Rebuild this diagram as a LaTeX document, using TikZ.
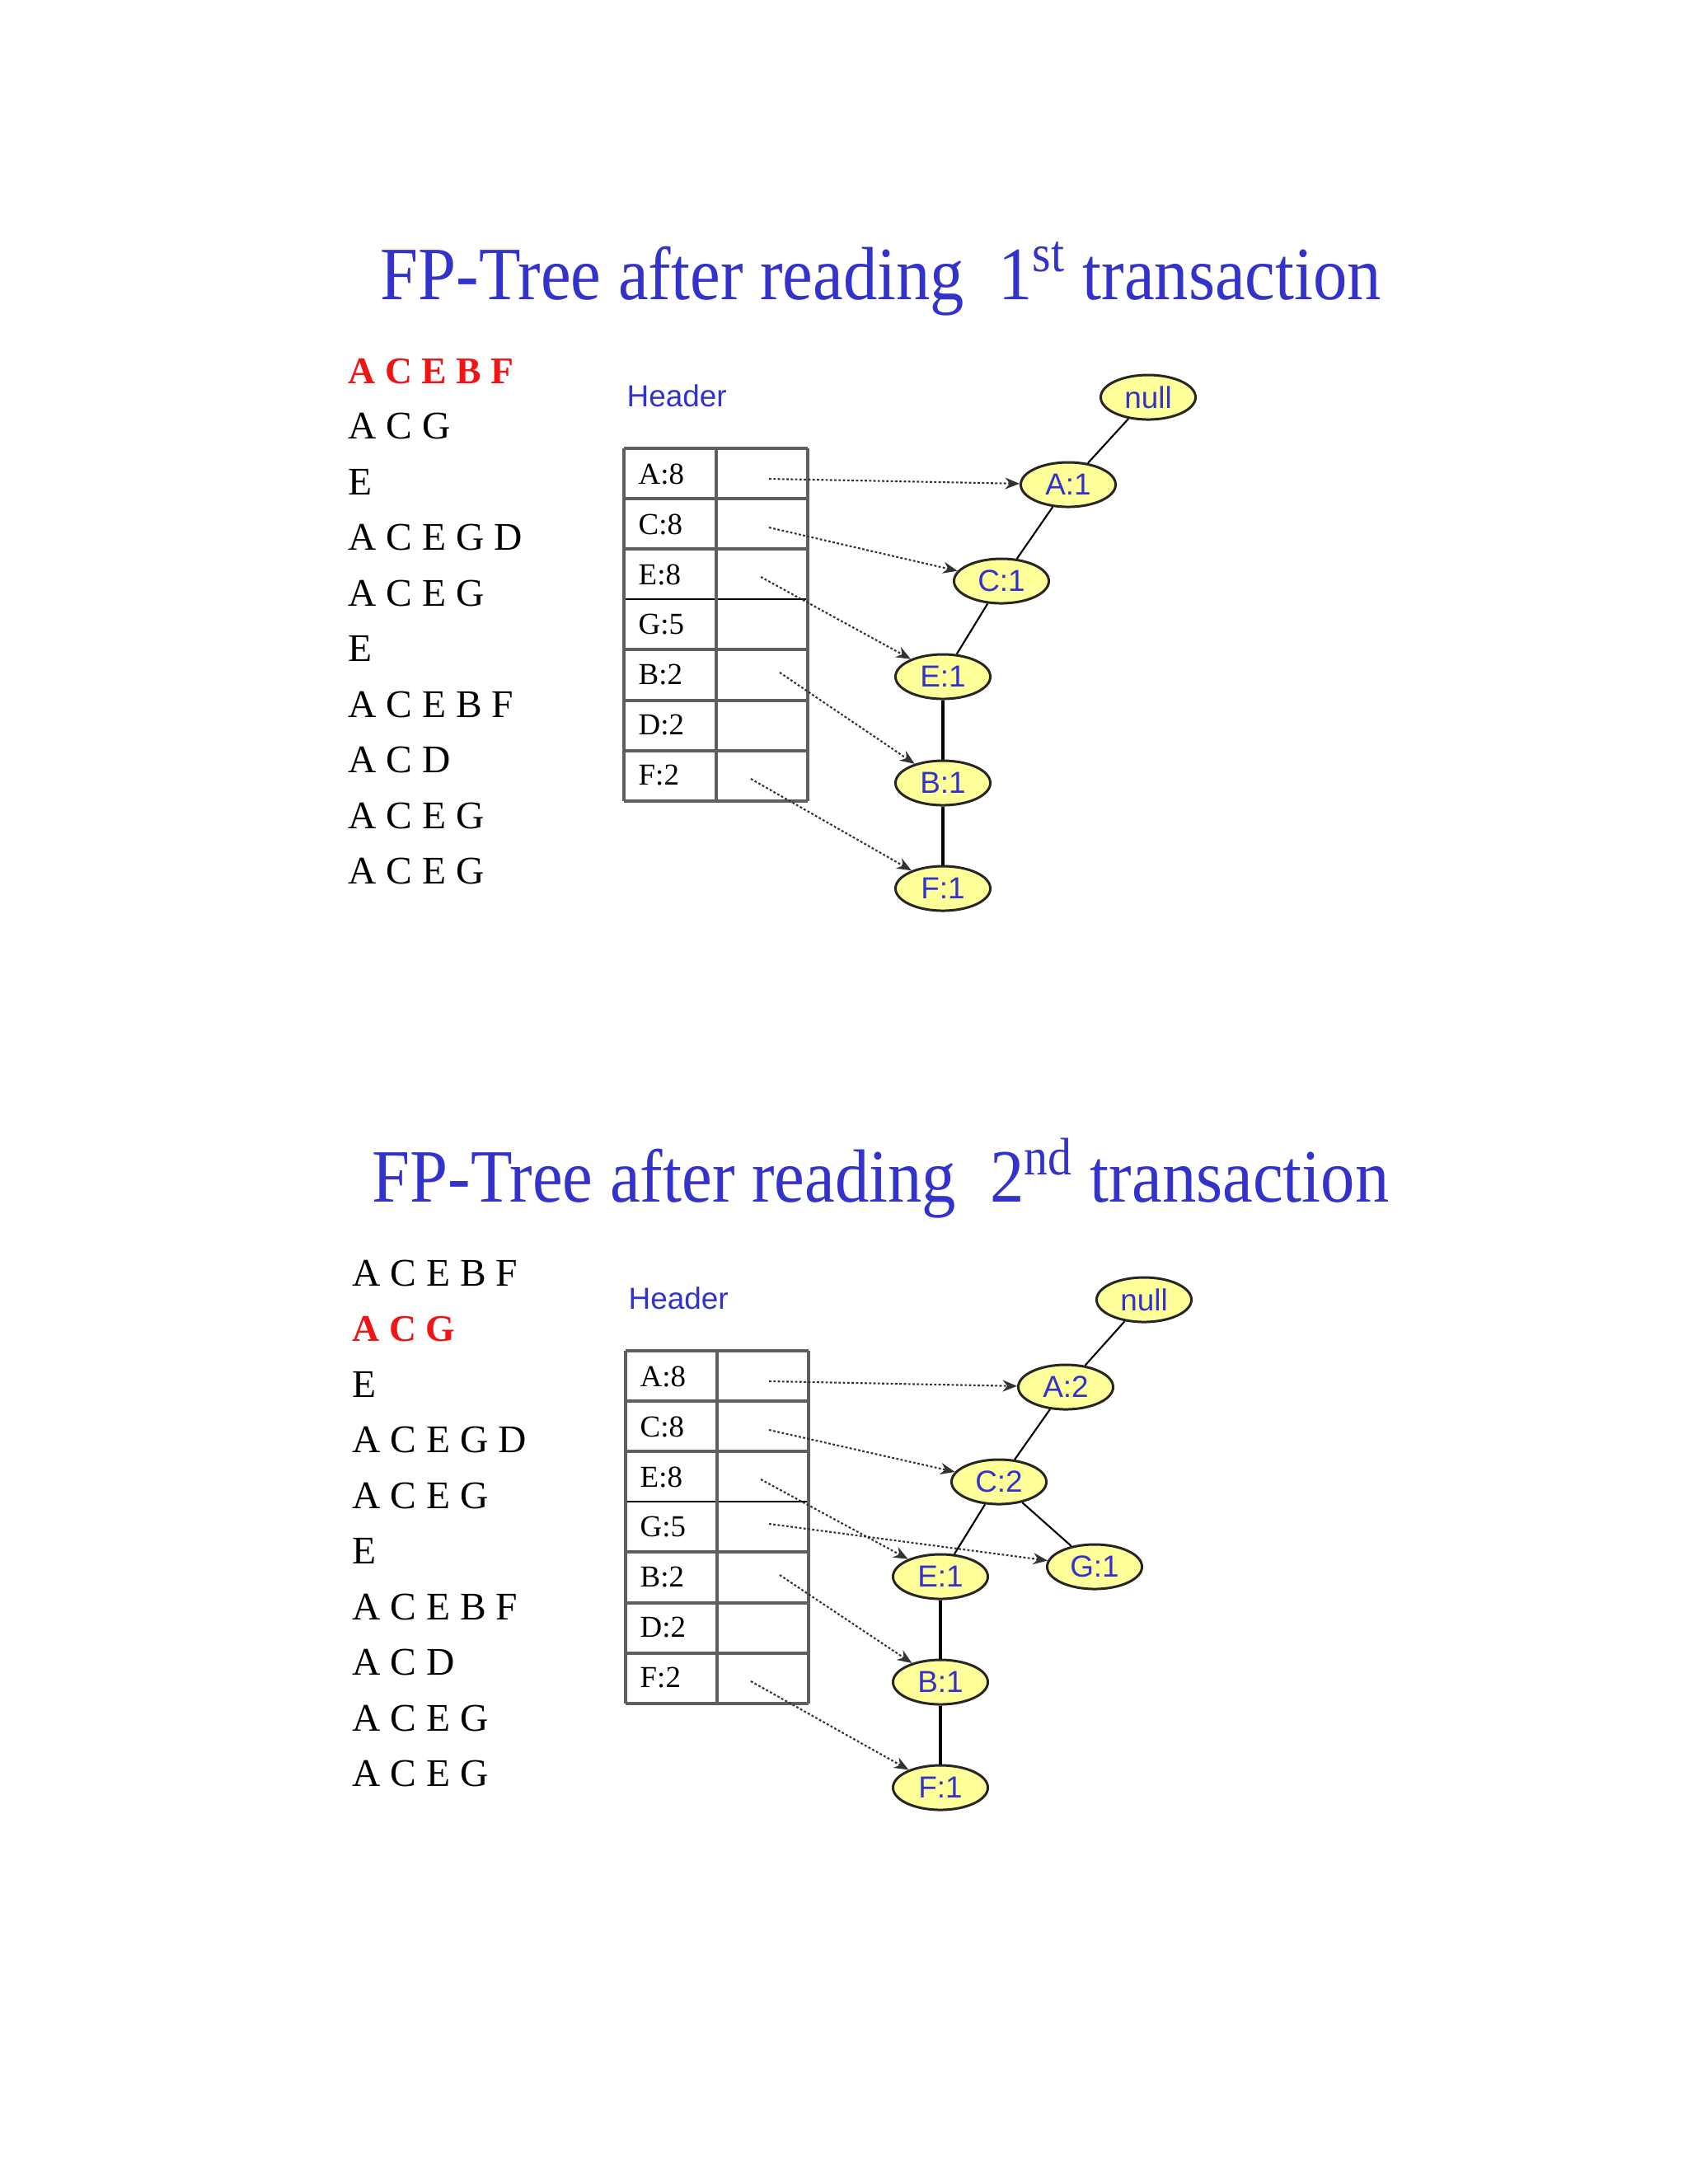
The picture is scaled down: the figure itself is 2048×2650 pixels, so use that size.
\documentclass[tikz,border=0pt]{standalone}
\usepackage{fontspec}
\setmainfont{Liberation Serif}
\newfontfamily\arialf{Liberation Sans}
\usepackage{graphicx}
\usetikzlibrary{shapes.geometric,arrows.meta}
\definecolor{ttlblue}{RGB}{51,51,204}
\definecolor{nodeyel}{RGB}{255,255,153}
\definecolor{tblgray}{RGB}{95,95,95}
\definecolor{txred}{RGB}{240,20,20}
\tikzset{
  ttl/.style={anchor=base west, inner sep=0, text=ttlblue, font=\fontsize{25}{30}\selectfont},
  trans/.style={anchor=base west, inner sep=0, font=\fontsize{13.5}{15}\selectfont},
  transred/.style={trans, text=txred, font=\fontsize{13}{15}\selectfont\bfseries},
  hdr/.style={anchor=west, inner sep=0, text=ttlblue, font=\arialf\fontsize{10.5}{12}\selectfont},
  cell/.style={anchor=west, inner sep=0, font=\fontsize{10.5}{12}\selectfont},
  fpnode/.style={ellipse, draw=black!85, line width=0.85pt, fill=nodeyel, minimum width=1.15cm, minimum height=0.54cm, inner sep=0, text=ttlblue, font=\arialf\fontsize{10.5}{12}\selectfont},
  treeedge/.style={line width=0.6pt},
  treeedgeb/.style={line width=0.9pt},
  linkarrow/.style={dash pattern=on 0.8pt off 0.7pt, line width=0.6pt, draw=black!80, -{Stealth[length=5pt,width=4pt]}},
  tblline/.style={draw=tblgray, line width=1.2pt},
  tblmid/.style={draw=black, line width=0.8pt},
}
\begin{document}
\begin{tikzpicture}[x=0.01cm, y=-0.01cm]
\useasboundingbox[fill=white] (0,0) rectangle (2048,2650);

% ================= Section 1 =================
\node[ttl] (title1) at (461,363) {\scalebox{0.94}[1.04]{FP-Tree after reading\ \ 1\textsuperscript{st} transaction}};

\node[transred] (ta1) at (422,465) {A C E B F};
\node[trans] (tb1) at (422,532.5) {A C G};
\node[trans] (tc1) at (422,600) {E};
\node[trans] (td1) at (422,667.5) {A C E G D};
\node[trans] (te1) at (422,735) {A C E G};
\node[trans] (tf1) at (422,802.5) {E};
\node[trans] (tg1) at (422,870) {A C E B F};
\node[trans] (th1) at (422,937.5) {A C D};
\node[trans] (ti1) at (422,1005) {A C E G};
\node[trans] (tj1) at (422,1072.5) {A C E G};

\node[hdr] (hdr1) at (760,480) {Header};

% table
\foreach \yy in {544,605,666,788,850,911,972} \draw[tblline] (757,\yy) -- (980,\yy);
\draw[tblmid] (757,727) -- (980,727);
\foreach \xx in {757,869,980} \draw[tblline] (\xx,544) -- (\xx,972);
\node[cell] (ca1) at (774,575) {A:8};
\node[cell] (cc1) at (774,636) {C:8};
\node[cell] (ce1) at (774,697) {E:8};
\node[cell] (cg1) at (774,758) {G:5};
\node[cell] (cb1) at (774,819) {B:2};
\node[cell] (cd1) at (774,880) {D:2};
\node[cell] (cf1) at (774,941) {F:2};

% tree
\node[fpnode] (null1) at (1393,482) {null};
\node[fpnode] (na1) at (1296,588) {A:1};
\node[fpnode] (nc1) at (1215,705) {C:1};
\node[fpnode] (ne1) at (1144,821) {E:1};
\node[fpnode] (nb1) at (1144,950) {B:1};
\node[fpnode] (nf1) at (1144,1078) {F:1};
\draw[treeedge] (null1) -- (na1);
\draw[treeedge] (na1) -- (nc1);
\draw[treeedge] (nc1) -- (ne1);
\draw[treeedgeb] (ne1) -- (nb1);
\draw[treeedgeb] (nb1) -- (nf1);

\coordinate (sa1) at (933,581);
\coordinate (sc1) at (933,640);
\coordinate (se1) at (923,700);
\coordinate (sb1) at (946,816);
\coordinate (sf1) at (911,945);
\draw[linkarrow] (sa1) -- (na1);
\draw[linkarrow] (sc1) -- (nc1);
\draw[linkarrow] (se1) -- (ne1);
\draw[linkarrow] (sb1) -- (nb1);
\draw[linkarrow] (sf1) -- (nf1);

% ================= Section 2 =================
\begin{scope}[shift={(0,1095)}]
\node[ttl] (title2) at (451,363) {\scalebox{0.94}[1.04]{FP-Tree after reading\ \ 2\textsuperscript{nd} transaction}};

\node[trans] (ta2) at (427,465) {A C E B F};
\node[transred] (tb2) at (427,532.5) {A C G};
\node[trans] (tc2) at (427,600) {E};
\node[trans] (td2) at (427,667.5) {A C E G D};
\node[trans] (te2) at (427,735) {A C E G};
\node[trans] (tf2) at (427,802.5) {E};
\node[trans] (tg2) at (427,870) {A C E B F};
\node[trans] (th2) at (427,937.5) {A C D};
\node[trans] (ti2) at (427,1005) {A C E G};
\node[trans] (tj2) at (427,1072.5) {A C E G};

\node[hdr] (hdr2) at (762,480) {Header};

\foreach \yy in {544,605,666,788,850,911,972} \draw[tblline] (759,\yy) -- (981,\yy);
\draw[tblmid] (759,727) -- (981,727);
\foreach \xx in {759,870,981} \draw[tblline] (\xx,544) -- (\xx,972);
\node[cell] (ca2) at (776,575) {A:8};
\node[cell] (cc2) at (776,636) {C:8};
\node[cell] (ce2) at (776,697) {E:8};
\node[cell] (cg2) at (776,758) {G:5};
\node[cell] (cb2) at (776,819) {B:2};
\node[cell] (cd2) at (776,880) {D:2};
\node[cell] (cf2) at (776,941) {F:2};

\node[fpnode] (null2) at (1388,482) {null};
\node[fpnode] (na2) at (1293,588) {A:2};
\node[fpnode] (nc2) at (1212,703) {C:2};
\node[fpnode] (ne2) at (1141,818) {E:1};
\node[fpnode] (nb2) at (1141,946) {B:1};
\node[fpnode] (nf2) at (1141,1074) {F:1};
\node[fpnode] (ng2) at (1328,806) {G:1};
\draw[treeedge] (null2) -- (na2);
\draw[treeedge] (na2) -- (nc2);
\draw[treeedge] (nc2) -- (ne2);
\draw[treeedge] (nc2) -- (ng2);
\draw[treeedgeb] (ne2) -- (nb2);
\draw[treeedgeb] (nb2) -- (nf2);

\coordinate (sa2) at (933,581);
\coordinate (sc2) at (933,640);
\coordinate (se2) at (923,700);
\coordinate (sg2) at (933,754);
\coordinate (sb2) at (946,816);
\coordinate (sf2) at (911,945);
\draw[linkarrow] (sa2) -- (na2);
\draw[linkarrow] (sc2) -- (nc2);
\draw[linkarrow] (se2) -- (ne2);
\draw[linkarrow] (sg2) -- (ng2);
\draw[linkarrow] (sb2) -- (nb2);
\draw[linkarrow] (sf2) -- (nf2);
\end{scope}
\end{tikzpicture}
\end{document}
